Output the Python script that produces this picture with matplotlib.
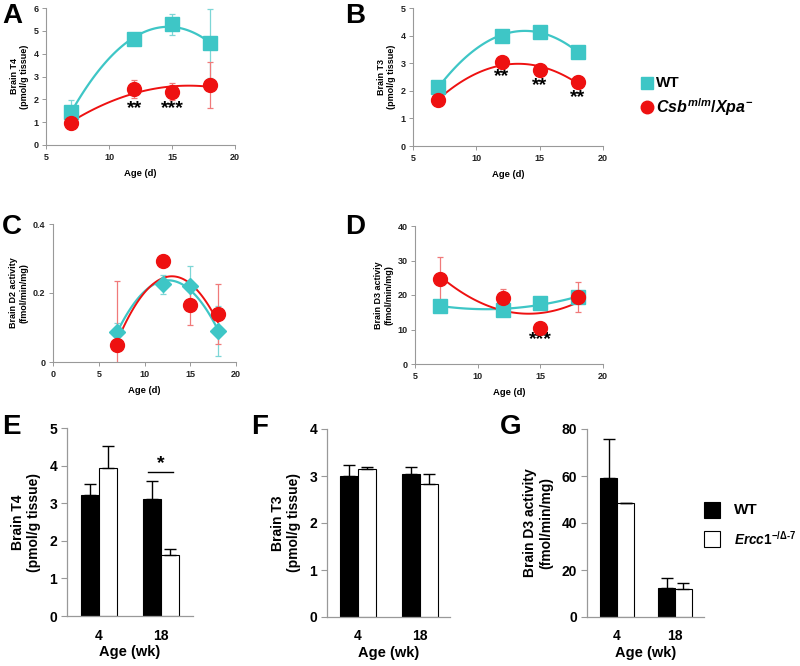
import numpy as np
import matplotlib
matplotlib.use("Agg")
import matplotlib.pyplot as plt
from matplotlib.lines import Line2D
from matplotlib.patches import Rectangle

plt.rcParams['font.family'] = ['Liberation Sans', 'DejaVu Sans']
plt.rcParams['font.weight'] = 'bold'
plt.rcParams['mathtext.fontset'] = 'custom'
plt.rcParams['mathtext.it'] = 'Liberation Sans:bold:italic'
plt.rcParams['mathtext.rm'] = 'Liberation Sans:bold'
plt.rcParams['mathtext.bf'] = 'Liberation Sans:bold'

TEAL = '#3ec6c6'
TEAL_E = '#7dd6d6'
RED = '#ee1111'
RED_E = '#f07a7a'
GRAY = '#999999'

# ---- data: panels A-D (age in days) ----
age_d = [7, 12, 15, 18]
t4_wt = [1.46, 4.63, 5.28, 4.45]
t4_wt_err = [0.5, 0.1, 0.46, 1.5]
t4_mut = [0.98, 2.44, 2.34, 2.63]
t4_mut_err = [0.1, 0.39, 0.37, 1.02]
t4_stars = [(12, 1.6, '**'), (15, 1.6, '***')]

t3_wt = [2.13, 4.0, 4.14, 3.4]
t3_wt_err = [0.1, 0.05, 0.05, 0.08]
t3_mut = [1.67, 3.04, 2.74, 2.32]
t3_mut_err = [0.05, 0.05, 0.05, 0.22]
t3_stars = [(12, 2.5, '**'), (15, 2.2, '**'), (18, 1.75, '**')]

d2_wt = [0.088, 0.225, 0.221, 0.09]
d2_wt_err = [0.024, 0.028, 0.057, 0.073]
d2_mut = [0.049, 0.293, 0.165, 0.139]
d2_mut_err = [0.186, 0.0, 0.058, 0.087]

d3_wt = [16.9, 15.65, 17.6, 19.4]
d3_wt_err = [0.5, 0.5, 0.5, 1.0]
d3_mut = [24.7, 19.0, 10.4, 19.5]
d3_mut_err = [6.4, 2.8, 0.3, 4.3]
d3_stars = [(15, 7.0, '***')]

# ---- data: panels E-G (age in weeks) ----
age_wk = ['4', '18']
e_wt = [3.23, 3.11]
e_wt_err = [0.29, 0.47]
e_ko = [3.94, 1.62]
e_ko_err = [0.57, 0.16]

f_wt = [3.0, 3.04]
f_wt_err = [0.24, 0.16]
f_ko = [3.15, 2.84]
f_ko_err = [0.04, 0.21]

g_wt = [59.3, 12.2]
g_wt_err = [16.4, 4.3]
g_ko = [48.6, 12.0]
g_ko_err = [0.0, 2.3]

W, H = 800, 666
fig = plt.figure(figsize=(W / 100, H / 100), dpi=100)


def ax_px(l, r, b, t):
    return fig.add_axes([l / W, 1 - b / H, (r - l) / W, (b - t) / H])


def style_small(ax):
    for s in ['top', 'right']:
        ax.spines[s].set_visible(False)
    for s in ['left', 'bottom']:
        ax.spines[s].set_color(GRAY)
        ax.spines[s].set_linewidth(0.8)
    ax.tick_params(axis='both', labelsize=6.5, colors=GRAY, length=3, width=0.7,
                   labelcolor='#222222', pad=2.5)
    for lab in ax.get_xticklabels() + ax.get_yticklabels():
        lab.set_fontweight('bold')


def line_panel(ax, wt, wt_err, mut, mut_err, wt_marker, wt_ms):
    xs = np.linspace(min(age_d), max(age_d), 100)
    pw = np.polyfit(age_d, wt, 2)
    pm = np.polyfit(age_d, mut, 2)
    ax.errorbar(age_d, wt, yerr=wt_err, fmt='none', ecolor=TEAL_E, elinewidth=0.9,
                capsize=2.5, capthick=0.9, zorder=2)
    ax.errorbar(age_d, mut, yerr=mut_err, fmt='none', ecolor=RED_E, elinewidth=0.9,
                capsize=2.5, capthick=0.9, zorder=2)
    ax.plot(xs, np.polyval(pw, xs), color=TEAL, lw=1.6, zorder=3)
    ax.plot(xs, np.polyval(pm, xs), color=RED, lw=1.4, zorder=3)
    ax.plot(age_d, wt, ls='none', marker=wt_marker, ms=wt_ms, color=TEAL, mec=TEAL, zorder=4)
    ax.plot(age_d, mut, ls='none', marker='o', ms=10, color=RED, mec=RED, zorder=5)


def labels_small(ax, ylabel):
    ax.set_ylabel(ylabel, fontsize=6.5, fontweight='bold', labelpad=3)
    ax.set_xlabel('Age (d)', fontsize=6.8, fontweight='bold', labelpad=5)


# Panel A
axA = ax_px(46, 235, 145, 8)
line_panel(axA, t4_wt, t4_wt_err, t4_mut, t4_mut_err, 's', 10)
axA.set_xlim(5, 20); axA.set_ylim(0, 6)
axA.set_xticks([5, 10, 15, 20]); axA.set_yticks(range(0, 7))
labels_small(axA, 'Brain T4\n(pmol/g tissue)')
for x, y, s in t4_stars:
    axA.text(x, y, s, ha='center', va='center', fontsize=14, fontweight='bold')
style_small(axA)

# Panel B
axB = ax_px(413, 603, 146, 8)
line_panel(axB, t3_wt, t3_wt_err, t3_mut, t3_mut_err, 's', 10)
axB.set_xlim(5, 20); axB.set_ylim(0, 5)
axB.set_xticks([5, 10, 15, 20]); axB.set_yticks(range(0, 6))
labels_small(axB, 'Brain T3\n(pmol/g tissue)')
for x, y, s in t3_stars:
    axB.text(x, y, s, ha='center', va='center', fontsize=14, fontweight='bold')
style_small(axB)

# Panel C
axC = ax_px(53, 236, 362, 224)
line_panel(axC, d2_wt, d2_wt_err, d2_mut, d2_mut_err, 'D', 8)
axC.set_xlim(0, 20); axC.set_ylim(0, 0.4)
axC.set_xticks([0, 5, 10, 15, 20]); axC.set_yticks([0, 0.2, 0.4])
axC.set_yticklabels(['0', '0.2', '0.4'])
labels_small(axC, 'Brain D2 activity\n(fmol/min/mg)')
style_small(axC)

# Panel D
axD = ax_px(415, 603, 364, 226)
line_panel(axD, d3_wt, d3_wt_err, d3_mut, d3_mut_err, 's', 10)
axD.set_xlim(5, 20); axD.set_ylim(0, 40)
axD.set_xticks([5, 10, 15, 20]); axD.set_yticks([0, 10, 20, 30, 40])
labels_small(axD, 'Brain D3 activiy\n(fmol/min/mg)')
for x, y, s in d3_stars:
    axD.text(x, y, s, ha='center', va='center', fontsize=14, fontweight='bold')
style_small(axD)


def bar_panel(ax, wt, wt_err, ko, ko_err, ylim, yticks, ylabel, xlim):
    pos = np.arange(len(age_wk))
    bw = 0.29
    ax.bar(pos - bw / 2, wt, bw, color='black', edgecolor='black', lw=0.8,
           yerr=[np.zeros(len(wt)), wt_err], error_kw=dict(ecolor='black', elinewidth=1.0,
                                                           capsize=4, capthick=1.0))
    ax.bar(pos + bw / 2, ko, bw, color='white', edgecolor='black', lw=0.8,
           yerr=[np.zeros(len(ko)), ko_err], error_kw=dict(ecolor='black', elinewidth=1.0,
                                                           capsize=4, capthick=1.0))
    ax.set_xlim(*xlim)
    ax.set_ylim(*ylim)
    ax.set_yticks(yticks)
    ax.set_xticks(pos)
    ax.set_xticklabels(age_wk)
    for s in ['top', 'right']:
        ax.spines[s].set_visible(False)
    for s in ['left', 'bottom']:
        ax.spines[s].set_color(GRAY)
        ax.spines[s].set_linewidth(0.9)
    ax.tick_params(axis='y', labelsize=10, colors=GRAY, length=4, width=0.8,
                   labelcolor='black', pad=3)
    ax.tick_params(axis='x', labelsize=10, length=0, pad=9, labelcolor='black')
    for lab in ax.get_xticklabels() + ax.get_yticklabels():
        lab.set_fontweight('bold')
    ax.set_ylabel(ylabel, fontsize=10, fontweight='bold', labelpad=6)
    ax.set_xlabel('Age (wk)', fontsize=10.5, fontweight='bold', labelpad=2)


axE = ax_px(67, 193, 616, 428)
bar_panel(axE, e_wt, e_wt_err, e_ko, e_ko_err, (0, 5), range(0, 6),
          'Brain T4\n(pmol/g tissue)', (-0.52, 1.52))
axE.plot([0.79, 1.2], [3.84, 3.84], color='black', lw=1.0)
axE.text(0.995, 3.84, '*', ha='center', va='bottom', fontsize=14, fontweight='bold')

axF = ax_px(327, 450, 617, 429)
bar_panel(axF, f_wt, f_wt_err, f_ko, f_ko_err, (0, 4), range(0, 5),
          'Brain T3\n(pmol/g tissue)', (-0.5, 1.48))

axG = ax_px(587, 704, 617, 429)
bar_panel(axG, g_wt, g_wt_err, g_ko, g_ko_err, (0, 80), range(0, 81, 20),
          'Brain D3 activity\n(fmol/min/mg)', (-0.52, 1.5))

# panel letters
for lab, x, y in [('A', 2, 3), ('B', 345, 3), ('C', 2, 214), ('D', 345, 214),
                  ('E', 2, 414), ('F', 251, 414), ('G', 500, 414)]:
    fig.text(x / W, 1 - y / H, lab, fontsize=20, fontweight='bold', ha='left', va='top')

# top legend
fig.add_artist(Line2D([647 / W], [1 - 83 / H], marker='s', ms=8.5, color=TEAL,
                      ls='none', transform=fig.transFigure))
fig.text(656 / W, 1 - 83 / H, 'WT', fontsize=11, fontweight='bold', va='center', ha='left')
fig.add_artist(Line2D([647 / W], [1 - 107 / H], marker='o', ms=9, color=RED,
                      ls='none', transform=fig.transFigure))
fig.text(656 / W, 1 - 107 / H, r'$Csb^{m/m}/Xpa^{-}$', fontsize=11.5, va='center', ha='left')

# bottom legend
fig.add_artist(Rectangle((704 / W, 1 - 518 / H), 16 / W, 16 / H, facecolor='black',
                         edgecolor='black', lw=0.8, transform=fig.transFigure))
fig.text(734 / W, 1 - 510 / H, 'WT', fontsize=11, fontweight='bold', va='center', ha='left')
fig.add_artist(Rectangle((704 / W, 1 - 547 / H), 16 / W, 16 / H, facecolor='white',
                         edgecolor='black', lw=0.8, transform=fig.transFigure))
fig.text(734 / W, 1 - 539 / H, r'$\mathit{Ercc1}^{-/Δ\text{-}7}$', fontsize=9.8,
         va='center', ha='left')

fig.savefig('out.png', dpi=100)
